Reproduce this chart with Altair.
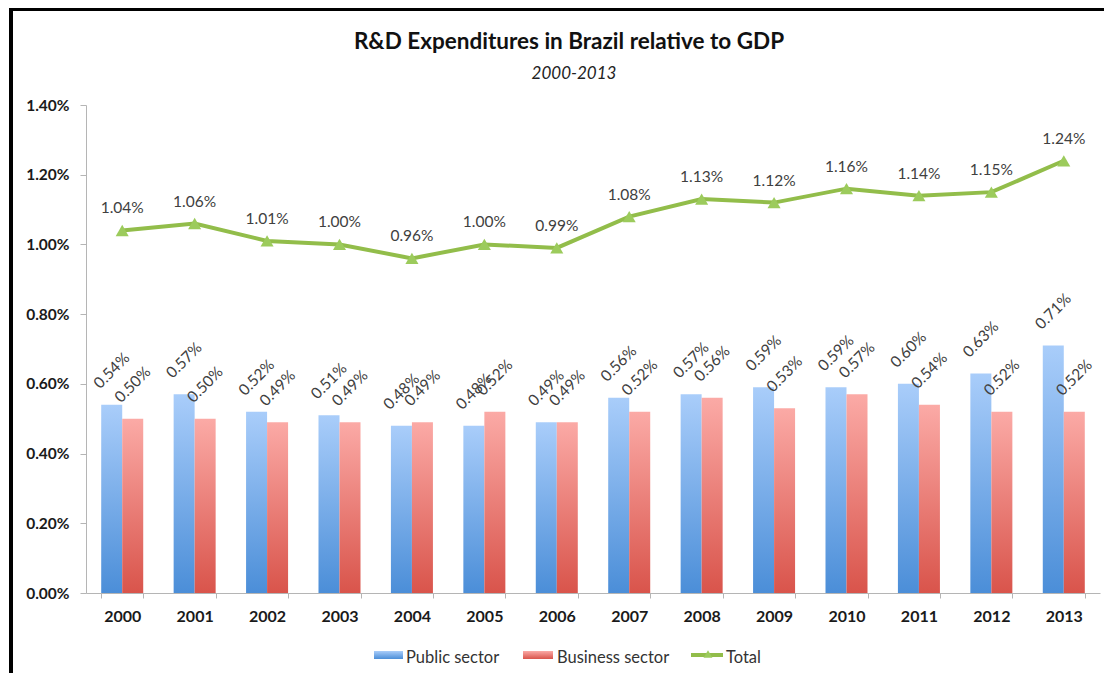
import altair as alt
import pandas as pd

years = [str(y) for y in range(2000, 2014)]
public = [0.54, 0.57, 0.52, 0.51, 0.48, 0.48, 0.49, 0.56, 0.57, 0.59, 0.59, 0.60, 0.63, 0.71]
business = [0.50, 0.50, 0.49, 0.49, 0.49, 0.52, 0.49, 0.52, 0.56, 0.53, 0.57, 0.54, 0.52, 0.52]
total = [1.04, 1.06, 1.01, 1.00, 0.96, 1.00, 0.99, 1.08, 1.13, 1.12, 1.16, 1.14, 1.15, 1.24]
series_names = ["Public sector", "Business sector", "Total"]
y_ticks = [0, 0.2, 0.4, 0.6, 0.8, 1.0, 1.2, 1.4]
title_text = ["R&D Expenditures in Brazil relative to GDP"]
subtitle_text = ["2000-2013"]

FONT = "Lato"
BLUE_TOP, BLUE_BOT = "#a9cdfa", "#4b8ed8"
RED_TOP, RED_BOT = "#fbaaa6", "#d9544b"
GREEN = "#92bd4a"
MARKER = "#9ccb5c"
LABEL = "#404040"

bars_df = pd.DataFrame({
    "year": years * 2,
    "series": [series_names[0]] * len(years) + [series_names[1]] * len(years),
    "value": public + business,
})
total_df = pd.DataFrame({"year": years, "value": total})
legend_df = pd.DataFrame({"series": series_names})
title_df = pd.DataFrame({"t": title_text})
sub_df = pd.DataFrame({"t": subtitle_text})


def grad(top, bot):
    return alt.LinearGradient(
        gradient="linear",
        stops=[alt.GradientStop(color=top, offset=0), alt.GradientStop(color=bot, offset=1)],
        x1=0, x2=0, y1=0, y2=1,
    )


x_enc = alt.X(
    "year:N", title=None, sort=years,
    scale=alt.Scale(paddingInner=0.42, paddingOuter=0.21),
    axis=alt.Axis(
        labelAngle=0, tickBand="extent", tickSize=5, tickColor="#b5b5b5",
        domainColor="#b5b5b5", labelFont=FONT, labelFontSize=16, labelFontWeight="bold",
        labelColor="#1a1a1a", labelPadding=10, grid=False,
    ),
)
y_enc = alt.Y(
    "value:Q", title=None,
    scale=alt.Scale(domain=[0, 1.4], nice=False),
    axis=alt.Axis(
        values=y_ticks, labelExpr="format(datum.value, '.2f') + '%'",
        tickSize=6, tickColor="#b5b5b5", domainColor="#b5b5b5", grid=False,
        labelFont=FONT, labelFontSize=15.5, labelFontWeight="bold", labelColor="#1a1a1a",
        labelPadding=11,
    ),
)
xoff = alt.XOffset("series:N", sort=series_names[:2],
                   scale=alt.Scale(domain=series_names[:2], paddingInner=0, paddingOuter=0))


def bar_layer(name, top, bot):
    return alt.Chart(bars_df).transform_filter(alt.datum.series == name).mark_bar(
        fill=grad(top, bot)
    ).encode(x=x_enc, y=y_enc, xOffset=xoff)


bar_labels = alt.Chart(bars_df).transform_calculate(
    lbl="format(datum.value, '.2f') + '%'"
).mark_text(
    angle=315, align="center", baseline="middle", yOffset=-34,
    font=FONT, fontSize=15.5, color=LABEL,
).encode(x=x_enc, y=y_enc, xOffset=xoff, text="lbl:N")

line = alt.Chart(total_df).mark_line(color=GREEN, strokeWidth=4).encode(x=x_enc, y=y_enc)
points = alt.Chart(total_df).mark_point(
    shape="triangle-up", filled=True, size=170, color=MARKER, opacity=1
).encode(x=x_enc, y=y_enc)
line_labels = alt.Chart(total_df).transform_calculate(
    lbl="format(datum.value, '.2f') + '%'"
).mark_text(dy=-22, font=FONT, fontSize=15.5, color=LABEL, baseline="middle").encode(
    x=x_enc, y=y_enc, text="lbl:N"
)

# decorations: frame, titles, legend
frame = alt.Chart(title_df).mark_rect(fill="transparent", stroke="black", strokeWidth=4).encode(
    x=alt.value(-75), x2=alt.value(1200), y=alt.value(-96), y2=alt.value(800)
)
title = alt.Chart(title_df).mark_text(
    font=FONT, fontSize=22.5, fontWeight="bold", color="#111111", align="center", baseline="alphabetic"
).encode(x=alt.value(483), y=alt.value(-56), text="t:N")
subtitle = alt.Chart(sub_df).mark_text(
    font=FONT, fontSize=17, fontStyle="italic", color="#222222", align="center", baseline="alphabetic"
).encode(x=alt.value(488), y=alt.value(-26), text="t:N")


def leg_df(i):
    return legend_df.iloc[[i]]


sw_blue = alt.Chart(leg_df(0)).mark_rect(fill=grad(BLUE_TOP, BLUE_BOT)).encode(
    x=alt.value(288), x2=alt.value(317), y=alt.value(546), y2=alt.value(554))
sw_red = alt.Chart(leg_df(1)).mark_rect(fill=grad(RED_TOP, RED_BOT)).encode(
    x=alt.value(437), x2=alt.value(467), y=alt.value(546), y2=alt.value(554))
sw_line = alt.Chart(leg_df(2)).mark_rule(color=GREEN, strokeWidth=4).encode(
    x=alt.value(605), x2=alt.value(637), y=alt.value(550))
sw_pt = alt.Chart(leg_df(2)).mark_point(shape="triangle-up", filled=True, size=80, color=MARKER, opacity=1).encode(
    x=alt.value(622), y=alt.value(549))
leg_style = dict(font=FONT, fontSize=16.5, color="#333333", align="left", baseline="alphabetic")
lt0 = alt.Chart(leg_df(0)).mark_text(**leg_style).encode(x=alt.value(320), y=alt.value(558), text="series:N")
lt1 = alt.Chart(leg_df(1)).mark_text(**leg_style).encode(x=alt.value(471), y=alt.value(558), text="series:N")
lt2 = alt.Chart(leg_df(2)).mark_text(**leg_style).encode(x=alt.value(640), y=alt.value(558), text="series:N")

chart = alt.layer(
    bar_layer(series_names[0], BLUE_TOP, BLUE_BOT),
    bar_layer(series_names[1], RED_TOP, RED_BOT),
    bar_labels, line, points, line_labels,
    frame, title, subtitle,
    sw_blue, sw_red, sw_line, sw_pt, lt0, lt1, lt2,
).properties(
    width=1014, height=488,
    autosize=alt.AutoSizeParams(type="none"),
    padding={"left": 78, "top": 97, "right": 4, "bottom": 80},
    background="white",
).configure_view(stroke=None)

chart.save("out.html", embed_options={"renderer": "svg", "actions": False})
